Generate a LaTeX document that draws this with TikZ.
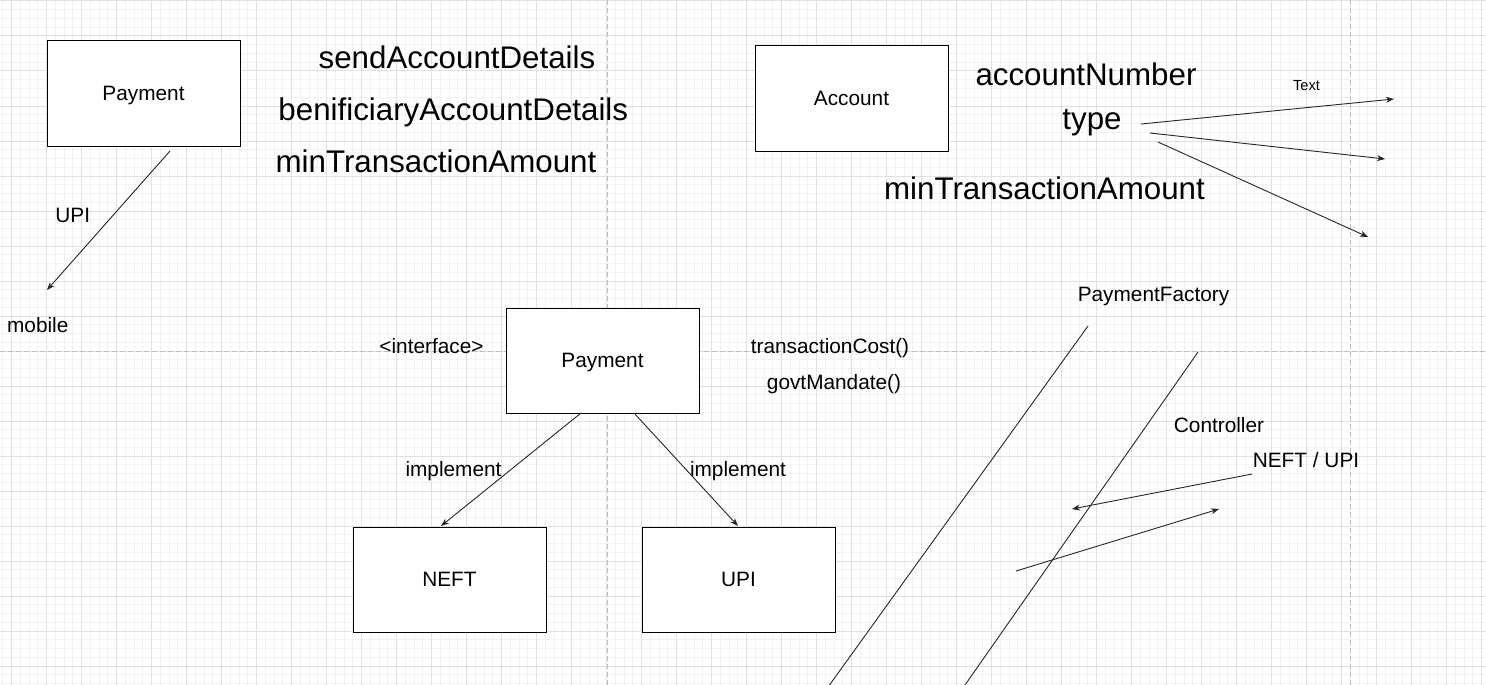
\documentclass[tikz,border=0pt]{standalone}
\usepackage{fontspec}
\setmainfont{Liberation Sans}
\usetikzlibrary{arrows.meta}

\begin{document}
\begin{tikzpicture}[x=1pt,y=-1pt,
  minor/.style={draw=black!5, line width=1pt},
  major/.style={draw=black!12, line width=1pt},
  page/.style={draw=black!25, line width=1pt, dash pattern=on 5pt off 3pt},
  box/.style={draw, fill=white, line width=1pt, minimum width=193pt, minimum height=105pt,
    inner sep=0pt, text height=14pt, text depth=0pt, font=\fontsize{20.8}{25}\selectfont},
  lbl/.style={anchor=base, inner sep=0pt, font=\fontsize{20.8}{25}\selectfont},
  big/.style={anchor=base, inner sep=0pt, font=\fontsize{31.3}{36}\selectfont},
  arr/.style={-{Stealth[length=8pt,width=6pt,inset=2.5pt]}, line width=0.9pt, draw=black!85},
  ln/.style={line width=0.9pt, draw=black!85}]
\useasboundingbox (0,0) rectangle (1486,685);
\fill[white] (0,0) rectangle (1486,685);
% grid
\foreach \i in {0,...,169} \draw[minor] (2.95+8.75*\i,0) -- ++(0,685);
\foreach \j in {0,...,78} \draw[minor] (0,1+8.75*\j) -- ++(1486,0);
\foreach \i in {0,...,42} \draw[major] (11.7+35*\i,0) -- ++(0,685);
\foreach \j in {0,...,19} \draw[major] (0,1+35*\j) -- ++(1486,0);
\draw[page] (607,0) -- (607,685);
\draw[page] (1350,0) -- (1350,685);
\draw[page] (0,351) -- (1486,351);
% boxes
\node[box] (b0) at (143.5,93.5) {Payment};
\node[box] (b1) at (851.5,98.5) {Account};
\node[box] (b2) at (602.5,360.5) {Payment};
\node[box] (b3) at (449.5,579.5) {NEFT};
\node[box] (b4) at (738.5,579.5) {UPI};
% texts
\node[big] (t0) at (457,68.3) {sendAccountDetails};
\node[big] (t1) at (453.3,121) {benificiaryAccountDetails};
\node[big] (t2) at (436,172.7) {minTransactionAmount};
\node[big] (t3) at (1086,85.7) {accountNumber};
\node[big] (t4) at (1092,129.3) {type};
\node[big] (t5) at (1044.5,199.3) {minTransactionAmount};
\node[lbl] (t6) at (72.7,222.7) {UPI};
\node[lbl] (t7) at (37.8,332.3) {mobile};
\node[lbl, font=\fontsize{14.6}{17}\selectfont] (t8) at (1306.5,90) {Text};
\node[lbl] (t9) at (431.5,353.3) {<interface>};
\node[lbl] (t10) at (830,353.3) {transactionCost()};
\node[lbl] (t11) at (834,389.3) {govtMandate()};
\node[lbl] (t12) at (453.5,476.7) {implement};
\node[lbl] (t13) at (738,476.7) {implement};
\node[lbl] (t14) at (1153.5,301.7) {PaymentFactory};
\node[lbl] (t15) at (1219,432.3) {Controller};
\node[lbl] (t16) at (1306,467.7) {NEFT / UPI};
% connector ends
\coordinate (c0) at (170,151);
\coordinate (c1) at (47,290);
\coordinate (c2) at (581,413);
\coordinate (c3) at (441,526);
\coordinate (c4) at (634,413);
\coordinate (c5) at (738,526);
\coordinate (c6) at (1141,124);
\coordinate (c7) at (1394,99);
\coordinate (c8) at (1150,133);
\coordinate (c9) at (1385,159);
\coordinate (c10) at (1158,142);
\coordinate (c11) at (1368,237);
\coordinate (c12) at (1088,326);
\coordinate (c13) at (829.5,685);
\coordinate (c14) at (1198,352);
\coordinate (c15) at (965,685);
\coordinate (c16) at (1252,474);
\coordinate (c17) at (1072,509);
\coordinate (c18) at (1016,571);
\coordinate (c19) at (1219,509);
% connectors
\draw [arr] (c0) -- (c1);
\draw [arr] (c2) -- (c3);
\draw [arr] (c4) -- (c5);
\draw [arr] (c6) -- (c7);
\draw [arr] (c8) -- (c9);
\draw [arr] (c10) -- (c11);
\draw [ln] (c12) -- (c13);
\draw [ln] (c14) -- (c15);
\draw [arr] (c16) -- (c17);
\draw [arr] (c18) -- (c19);
\end{tikzpicture}
\end{document}
